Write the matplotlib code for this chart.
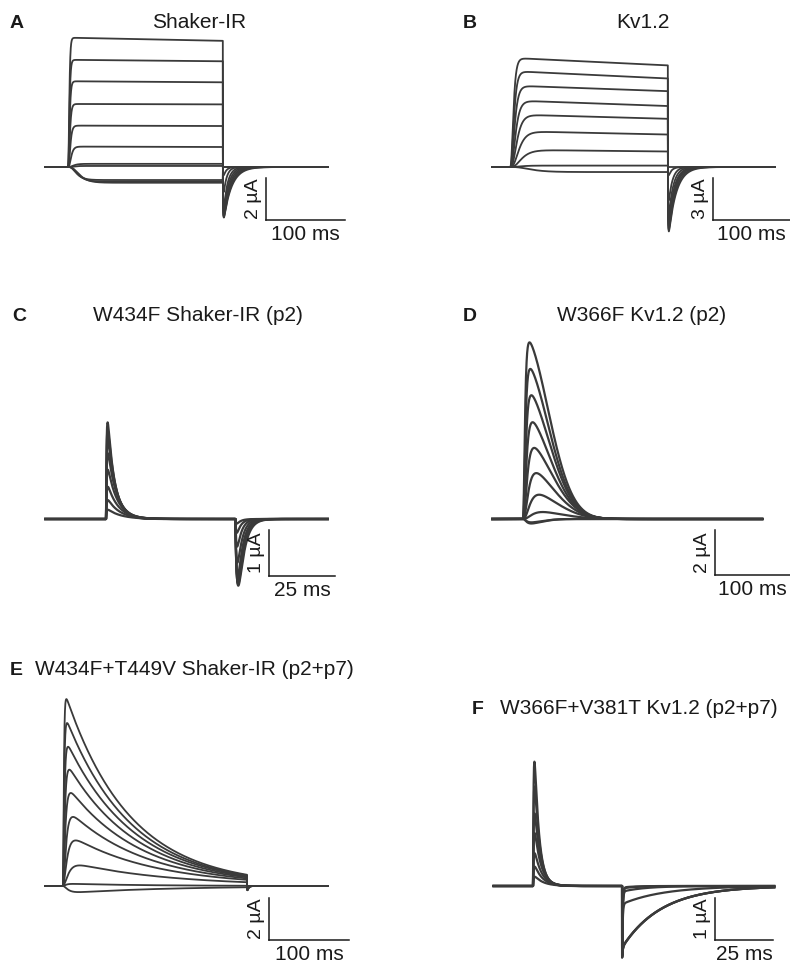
import numpy as np
import matplotlib.pyplot as plt

plt.rcParams['font.family'] = ['Liberation Sans', 'DejaVu Sans']

# ---------------- values (ms, uA) ----------------
# A  Shaker-IR : step currents, peak / end-of-pulse level, rise tau, tail
shk_sweep = (-29, 329)
shk_pulse = 196
shk_peak = [6.15, 5.10, 4.08, 3.00, 1.97, 0.97, 0.15, 0.05, -0.62, -0.70, -0.75]
shk_end = [6.00, 5.03, 4.03, 2.98, 1.95, 0.95, 0.15, 0.05, -0.62, -0.70, -0.75]
shk_rise = [0.9, 1.0, 1.1, 1.3, 1.6, 2.2, 4.0, 4.0, 6.0, 7.0, 8.0]
shk_tail = [-2.40, -2.40, -2.35, -2.30, -2.20, -1.95, -1.20, -0.40, 0, 0, 0]
shk_tail_tau = [10, 9, 8, 7, 6, 5, 4, 3.5, 3, 3, 3]

# B  Kv1.2
kv_sweep = (-23, 344)
kv_pulse = 205
kv_peak = [7.74, 6.79, 5.76, 4.69, 3.69, 2.50, 1.19, 0.10, -0.36]
kv_end = [7.20, 6.26, 5.36, 4.29, 3.38, 2.26, 1.07, 0.10, -0.36]
kv_rise = [2.4, 2.8, 3.3, 4.0, 5.0, 6.5, 8.5, 8.0, 15.0]
kv_tail = [-4.6, -4.5, -4.4, -4.2, -3.9, -3.4, -2.4, -0.6, 0]
kv_tail_tau = [10, 9, 8, 7.5, 7, 6, 5, 4, 4]

# C  W434F Shaker-IR (p2) : gating currents
c_sweep = (-23, 84)
c_pulse = 49
c_on = [2.10, 1.93, 1.72, 1.43, 1.07, 0.70, 0.41, 0.20]
c_on_tau = [2.6, 2.8, 3.0, 3.3, 3.6, 4.0, 4.5, 5.0]
c_off = [-1.45, -1.42, -1.38, -1.25, -0.95, -0.60, -0.30, -0.10]
c_off_rise = [0.9, 0.8, 0.7, 0.6, 0.5, 0.4, 0.3, 0.3]
c_off_tau = [2.2, 2.1, 2.0, 1.9, 1.8, 1.7, 1.6, 1.5]

# D  W366F Kv1.2 (p2)
d_sweep = (-41, 319)
d_peak = [7.85, 6.67, 5.50, 4.30, 3.16, 2.04, 1.08, 0.31, -0.15, -0.20]
d_rise = [1.6, 1.9, 2.3, 2.8, 3.5, 4.5, 6.0, 8.0, 3.0, 3.0]
d_decay = [46, 46, 47, 48, 50, 52, 55, 60, 30, 30]

# E  W434F+T449V Shaker-IR (p2+p7)
e_sweep = (-22.5, 331)
e_pulse = 230
e_peak = [8.90, 7.76, 6.63, 5.54, 4.43, 3.29, 2.17, 0.98, 0.10, -0.29]
e_rise = [0.8, 1.0, 1.3, 1.7, 2.2, 3.0, 4.0, 5.5, 3.0, 5.0]
e_decay = [80, 82, 85, 88, 92, 97, 105, 120, 100, 130]
e_tail = [-0.20, -0.20, -0.20, -0.18, -0.16, -0.14, -0.10, -0.06, 0, 0]

# F  W366F+V381T Kv1.2 (p2+p7)
f_sweep = (-17, 104)
f_pulse = 38.4
f_on = [2.96, 2.37, 1.73, 1.26, 0.78, 0.46, 0.22]
f_on_tau = [2.0, 2.2, 2.4, 2.7, 3.0, 3.4, 3.8]
f_off = [-1.36, -1.36, -1.35, -0.40, -0.12, -0.05, -0.03]
f_off_tau = [17, 17, 17, 18, 10, 6, 5]
f_artifact = -1.71

# scale bars: (uA, ms)
bars = {'A': (2, 100), 'B': (3, 100), 'C': (1, 25),
        'D': (2, 100), 'E': (2, 100), 'F': (1, 25)}

titles = {'A': 'Shaker-IR', 'B': 'Kv1.2', 'C': 'W434F Shaker-IR (p2)',
          'D': 'W366F Kv1.2 (p2)', 'E': 'W434F+T449V Shaker-IR (p2+p7)',
          'F': 'W366F+V381T Kv1.2 (p2+p7)'}

# ---------------- layout (pixels) ----------------
W, H = 790, 967
fig = plt.figure(figsize=(W / 100, H / 100), dpi=100)
TRACE = '#3a3a3a'
INK = '#1a1a1a'


def add_panel(box, x0, y0, sx, sy):
    # x0,y0: pixel of t=0 / I=0 ; sx px per ms ; sy px per uA
    l, t, r, b = box
    ax = fig.add_axes([l / W, 1 - b / H, (r - l) / W, (b - t) / H])
    ax.set_xlim((l - x0) / sx, (r - x0) / sx)
    ax.set_ylim((y0 - b) / sy, (y0 - t) / sy)
    ax.set_axis_off()
    return ax


def shape(t, tr, td, n=1, p=1.0):
    tt = np.clip(t, 0, None)
    s = (1 - np.exp(-tt / tr)) ** n * np.exp(-(tt / td) ** p)
    return s / s.max()


def sweep(t, T, amp, tr, td, n=1, p=1.0, tail=0.0, tail_tr=0.3, tail_td=5.0,
          artifact=0.0):
    y = np.zeros_like(t)
    on = (t >= 0) & (t < T)
    y[on] = amp * shape(t[on], tr, td, n, p)
    off = t >= T
    if off.any():
        dt = t[off] - T
        if tail:
            y[off] += tail * shape(dt, tail_tr, tail_td)
        if artifact:
            y[off] += artifact * np.exp(-dt / tail_tr)
    return y


def step_td(pk, end, T):
    return np.inf if pk == end else T / np.log(pk / end)


def scalebar(ax, key, bx, by):
    amp, ms = bars[key]
    ax.plot([bx, bx], [by, by + amp], color=INK, lw=1.1, clip_on=False)
    ax.plot([bx, bx + ms], [by, by], color=INK, lw=1.1, clip_on=False)
    ax.annotate('%g \u00b5A' % amp, xy=(bx, by + amp / 2), xytext=(-4, 0),
                textcoords='offset pixels', rotation=90, ha='right', va='center',
                fontsize=14, color=INK)
    ax.annotate('%g ms' % ms, xy=(bx + ms / 2, by), xytext=(0, -5),
                textcoords='offset pixels', ha='center', va='top',
                fontsize=15, color=INK)


def draw(ax, t, ys, lw=1.3):
    for y in ys:
        ax.plot(t, y, color=TRACE, lw=lw, clip_on=False, solid_joinstyle='round')


def label(letter, lx, tx, y, ha='center'):
    fig.text(lx / W, 1 - y / H, letter, fontsize=14, fontweight='bold',
             color=INK, va='baseline', ha='left')
    fig.text(tx / W, 1 - y / H, titles[letter], fontsize=15, color=INK,
             va='baseline', ha=ha)


N = 9000

# A
ax = add_panel((0, 0, 395, 300), 68, 167, 0.79, 21)
t = np.linspace(*shk_sweep, N)
draw(ax, t, [sweep(t, shk_pulse, shk_peak[i], shk_rise[i],
                   step_td(shk_peak[i], shk_end[i], shk_pulse), n=4,
                   tail=shk_tail[i], tail_tr=0.4, tail_td=shk_tail_tau[i])
             for i in range(len(shk_peak))])
scalebar(ax, 'A', 250.6, -2.52)
label('A', 10, 199, 28)

# B
ax = add_panel((395, 0, 790, 300), 510, 167, 0.77, 14)
t = np.linspace(*kv_sweep, N)
draw(ax, t, [sweep(t, kv_pulse, kv_peak[i], kv_rise[i],
                   step_td(kv_peak[i], kv_end[i], kv_pulse), n=4,
                   tail=kv_tail[i], tail_tr=0.4, tail_td=kv_tail_tau[i])
             for i in range(len(kv_peak))])
scalebar(ax, 'B', 263.6, -3.79)
label('B', 463, 643, 28)

# C
ax = add_panel((0, 300, 395, 640), 106, 519, 2.64, 46)
t = np.linspace(*c_sweep, N)
draw(ax, t, [sweep(t, c_pulse, c_on[i], 0.25, c_on_tau[i],
                   tail=c_off[i], tail_tr=c_off_rise[i], tail_td=c_off_tau[i])
             for i in range(len(c_on))], lw=1.6)
scalebar(ax, 'C', 61.7, -1.24)
label('C', 12, 198, 321)

# D
ax = add_panel((395, 300, 790, 640), 523, 519, 0.75, 22.5)
t = np.linspace(*d_sweep, N)
draw(ax, t, [sweep(t, np.inf, d_peak[i], d_rise[i], d_decay[i], n=3, p=2.0)
             for i in range(len(d_peak))], lw=1.6)
scalebar(ax, 'D', 256, -2.49)
label('D', 463, 642, 321)

# E
ax = add_panel((0, 640, 395, 967), 63, 886, 0.80, 21)
t = np.linspace(*e_sweep, N)
draw(ax, t, [sweep(t, e_pulse, e_peak[i], e_rise[i], e_decay[i], n=2,
                   tail=e_tail[i], tail_tr=0.3, tail_td=1.5)
             for i in range(len(e_peak))])
scalebar(ax, 'E', 257.5, -2.57)
label('E', 10, 35, 675, ha='left')

# F
ax = add_panel((395, 640, 790, 967), 533, 886, 2.32, 42)
t = np.linspace(*f_sweep, N)
draw(ax, t, [sweep(t, f_pulse, f_on[i], 0.3, f_on_tau[i],
                   tail=f_off[i], tail_tr=0.25, tail_td=f_off_tau[i],
                   artifact=f_artifact)
             for i in range(len(f_on))], lw=1.6)
scalebar(ax, 'F', 78.4, -1.29)
label('F', 472, 500, 714, ha='left')

fig.savefig('out.png', dpi=100)
